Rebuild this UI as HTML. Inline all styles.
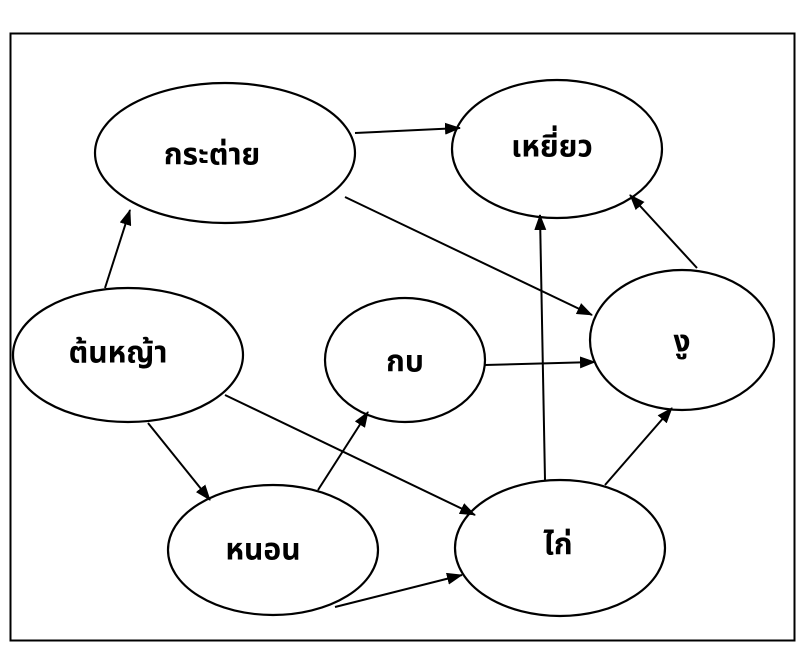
<!DOCTYPE html>
<html><head><meta charset="utf-8"><style>
html,body{margin:0;padding:0;background:#fff;}
svg{display:block;}
text{font-family:"Liberation Sans","Noto Sans Thai","Loma","Garuda","DejaVu Sans",sans-serif;font-size:30px;font-weight:bold;fill:#000;text-anchor:middle;dominant-baseline:central;}
</style></head><body>
<svg width="800" height="645" viewBox="0 0 800 645" xmlns="http://www.w3.org/2000/svg">
<defs><marker id="a" markerWidth="16" markerHeight="12" refX="15" refY="6" orient="auto" markerUnits="userSpaceOnUse"><path d="M0,0 L16,6 L0,12 z" fill="#000"/></marker></defs>
<rect x="10.5" y="33.5" width="784" height="607" fill="none" stroke="#000" stroke-width="2"/>
<g fill="#fff" stroke="#000" stroke-width="2.2">
<ellipse cx="225" cy="153" rx="130" ry="70"/>
<ellipse cx="557" cy="149" rx="105" ry="69"/>
<ellipse cx="128" cy="355" rx="115" ry="67"/>
<ellipse cx="405" cy="360" rx="80" ry="62"/>
<ellipse cx="682" cy="340" rx="92" ry="70"/>
<ellipse cx="273" cy="550" rx="105" ry="65"/>
<ellipse cx="560" cy="548" rx="105" ry="68"/>
</g>
<g stroke="#000" stroke-width="2" marker-end="url(#a)">
<line x1="355" y1="133" x2="460" y2="128"/>
<line x1="345" y1="197" x2="592" y2="315"/>
<line x1="105" y1="288" x2="130" y2="210"/>
<line x1="148" y1="423" x2="210" y2="500"/>
<line x1="225" y1="395" x2="475" y2="515"/>
<line x1="318" y1="490" x2="368" y2="412"/>
<line x1="335" y1="607" x2="462" y2="575"/>
<line x1="485" y1="365" x2="595" y2="362"/>
<line x1="545" y1="480" x2="540" y2="215"/>
<line x1="605" y1="485" x2="672" y2="408"/>
<line x1="697" y1="268" x2="630" y2="195"/>
</g>
<text x="212" y="155">กระต่าย</text>
<text x="552" y="147">เหยี่ยว</text>
<text x="118" y="353">ต้นหญ้า</text>
<text x="405" y="362">กบ</text>
<text x="682" y="342">งู</text>
<text x="263" y="550">หนอน</text>
<text x="558" y="545">ไก่</text>
</svg>
</body></html>
